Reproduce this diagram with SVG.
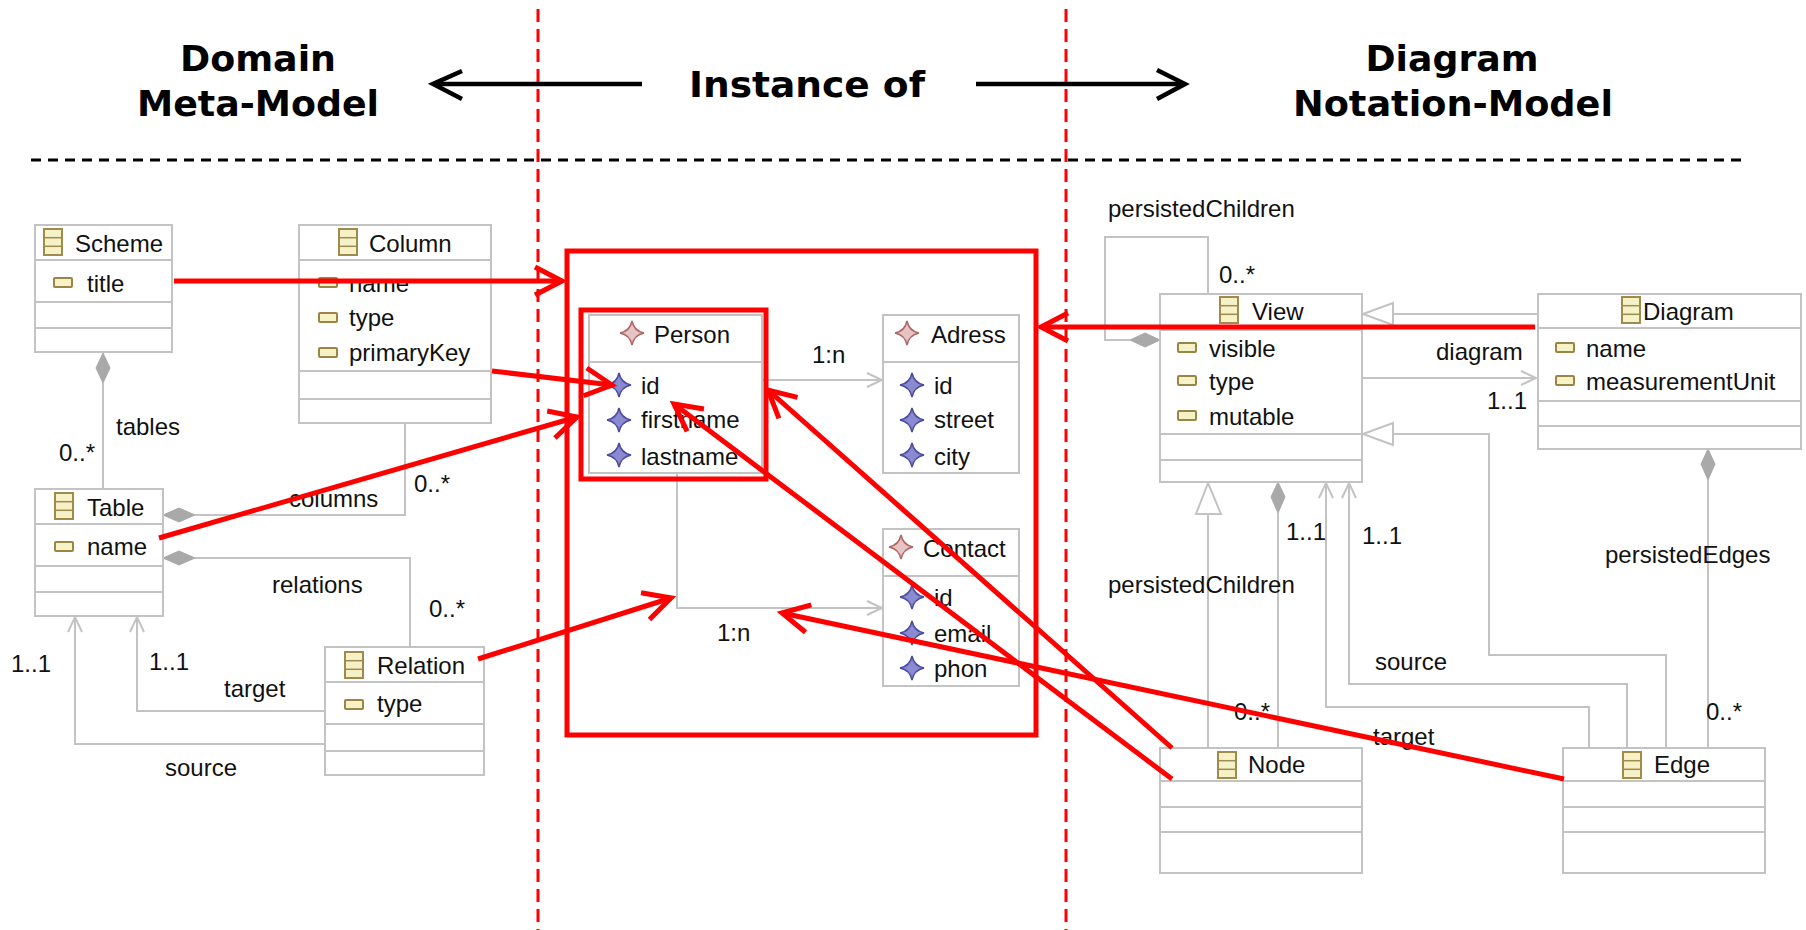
<svg xmlns="http://www.w3.org/2000/svg" width="1806" height="930" viewBox="0 0 1806 930">
<style>
  .title { font-family: "DejaVu Sans", Verdana, sans-serif; font-weight: bold; font-size: 36px; fill: #000; text-anchor: middle; }
  .t { font-family: "Liberation Sans", Arial, sans-serif; font-size: 24px; fill: #111; }
  .box { fill: #fff; stroke: #c3c3c3; stroke-width: 2; }
  .sep { stroke: #c3c3c3; stroke-width: 2; fill: none; }
  .con { stroke: #c3c3c3; stroke-width: 2; fill: none; }
  .open { stroke: #c3c3c3; stroke-width: 2; fill: none; marker-end: url(#grayOpen); }
  .dia { fill: #a9a9a9; stroke: #a9a9a9; stroke-width: 1; }
  .gen { fill: #fff; stroke: #c3c3c3; stroke-width: 2; }
  .red { stroke: #ff0000; stroke-width: 5; fill: none; }
  .redarrow { stroke: #ff0000; stroke-width: 5; fill: none; marker-end: url(#redOpen); }
  .blk { stroke: #000; stroke-width: 4.5; fill: none; }
</style>
<defs>
  <marker id="redOpen" markerUnits="userSpaceOnUse" viewBox="-34 -20 40 40" markerWidth="40" markerHeight="40" refX="0" refY="0" orient="auto">
    <path d="M-27,-14 L0,0 L-27,14" fill="none" stroke="#ff0000" stroke-width="5"/>
  </marker>
  <marker id="grayOpen" markerUnits="userSpaceOnUse" viewBox="-20 -10 24 20" markerWidth="24" markerHeight="20" refX="0" refY="0" orient="auto">
    <path d="M-15,-7 L0,0 L-15,7" fill="none" stroke="#c3c3c3" stroke-width="2"/>
  </marker>
  <g id="clsIcon">
    <rect x="0" y="0" width="18" height="26" fill="#f6f2c8" stroke="#a08a4c" stroke-width="2"/>
    <line x1="0" y1="8.7" x2="18" y2="8.7" stroke="#a08a4c" stroke-width="1.5"/>
    <line x1="0" y1="17.3" x2="18" y2="17.3" stroke="#a08a4c" stroke-width="1.5"/>
  </g>
  <rect id="attrIcon" x="0" y="0" width="18" height="9" rx="1" fill="#f6f2c8" stroke="#9c8444" stroke-width="2"/>
  <path id="redStar" d="M0,-12 Q2,-2 12,0 Q2,2 0,12 Q-2,2 -12,0 Q-2,-2 0,-12 Z" fill="#e6c4c4" stroke="#b06464" stroke-width="1.5"/>
  <path id="blueStar" d="M0,-12 Q2,-2 12,0 Q2,2 0,12 Q-2,2 -12,0 Q-2,-2 0,-12 Z" fill="#8a8ad0" stroke="#4a4aa2" stroke-width="1.5"/>
</defs>
<rect x="0" y="0" width="1806" height="930" fill="#fff"/>

<!-- header -->
<g id="header">
  <text class="title" x="258" y="71" textLength="156" lengthAdjust="spacingAndGlyphs">Domain</text>
  <text class="title" x="258" y="116" textLength="242" lengthAdjust="spacingAndGlyphs">Meta-Model</text>
  <text class="title" x="807" y="97" textLength="236" lengthAdjust="spacingAndGlyphs">Instance of</text>
  <text class="title" x="1452" y="71" textLength="173" lengthAdjust="spacingAndGlyphs">Diagram</text>
  <text class="title" x="1453" y="116" textLength="320" lengthAdjust="spacingAndGlyphs">Notation-Model</text>
  <line class="blk" x1="437" y1="84" x2="642" y2="84"/>
  <path class="blk" d="M462,71 L433,84 L462,99"/>
  <line class="blk" x1="976" y1="84" x2="1182" y2="84"/>
  <path class="blk" d="M1157,70 L1185,84 L1157,99"/>
  <line x1="31" y1="160" x2="1748" y2="160" stroke="#000" stroke-width="3" stroke-dasharray="10 7"/>
  <line x1="538" y1="9" x2="538" y2="930" stroke="#ff0000" stroke-width="3" stroke-dasharray="13 7"/>
  <line x1="1066" y1="9" x2="1066" y2="930" stroke="#ff0000" stroke-width="3" stroke-dasharray="13 7"/>
</g>

<!-- gray UML connectors -->
<g id="connectors">
  <path class="con" d="M103,383 L103,489"/>
  <polygon class="dia" points="103,353 110,368 103,383 96,368"/>
  <path class="con" d="M195,515 L405,515 L405,423"/>
  <polygon class="dia" points="163,515 179,508 195,515 179,522"/>
  <path class="con" d="M195,558 L410,558 L410,647"/>
  <polygon class="dia" points="163,558 179,551 195,558 179,565"/>
  <path class="open" d="M325,711 L137,711 L137,617"/>
  <path class="open" d="M325,744 L75,744 L75,617"/>

  <path class="open" d="M762,380 L882,380"/>
  <path class="open" d="M677,473 L677,608 L882,608"/>

  <path class="con" d="M1130,340 L1105,340 L1105,237 L1208,237 L1208,294"/>
  <polygon class="dia" points="1160,340 1145,333 1130,340 1145,347"/>
  <path class="con" d="M1538,314 L1393,314"/>
  <polygon class="gen" points="1363,314 1393,303 1393,325"/>
  <path class="open" d="M1362,378 L1536,378"/>
  <path class="con" d="M1666,748 L1666,655 L1489,655 L1489,434 L1393,434"/>
  <polygon class="gen" points="1363,434 1393,423 1393,445"/>
  <path class="con" d="M1208,748 L1208,514"/>
  <polygon class="gen" points="1208,483 1196,514 1221,514"/>
  <path class="con" d="M1278,513 L1278,748"/>
  <polygon class="dia" points="1278,482 1285,497 1278,513 1271,497"/>
  <path class="open" d="M1589,748 L1589,707 L1326,707 L1326,483"/>
  <path class="open" d="M1627,748 L1627,684 L1349,684 L1349,483"/>
  <path class="con" d="M1708,480 L1708,748"/>
  <polygon class="dia" points="1708,449 1715,464 1708,480 1701,464"/>

  <text class="t" x="116" y="435">tables</text>
  <text class="t" x="59" y="461">0..*</text>
  <text class="t" x="289" y="507">columns</text>
  <text class="t" x="414" y="492">0..*</text>
  <text class="t" x="272" y="593">relations</text>
  <text class="t" x="429" y="617">0..*</text>
  <text class="t" x="11" y="672">1..1</text>
  <text class="t" x="149" y="670">1..1</text>
  <text class="t" x="224" y="697">target</text>
  <text class="t" x="165" y="776">source</text>
  <text class="t" x="812" y="363">1:n</text>
  <text class="t" x="717" y="641">1:n</text>
  <text class="t" x="1108" y="217">persistedChildren</text>
  <text class="t" x="1219" y="283">0..*</text>
  <text class="t" x="1436" y="360">diagram</text>
  <text class="t" x="1487" y="409">1..1</text>
  <text class="t" x="1286" y="540">1..1</text>
  <text class="t" x="1362" y="544">1..1</text>
  <text class="t" x="1108" y="593">persistedChildren</text>
  <text class="t" x="1375" y="670">source</text>
  <text class="t" x="1234" y="720">0..*</text>
  <text class="t" x="1373" y="745">target</text>
  <text class="t" x="1605" y="563">persistedEdges</text>
  <text class="t" x="1706" y="720">0..*</text>
</g>

<!-- Domain meta-model classes -->
<g id="Scheme">
  <rect class="box" x="35" y="225" width="137" height="127"/>
  <path class="sep" d="M35,260 H172 M35,302 H172 M35,328 H172"/>
  <use href="#clsIcon" x="44" y="229"/>
  <text class="t" x="75" y="252">Scheme</text>
  <use href="#attrIcon" x="54" y="278"/>
  <text class="t" x="87" y="292">title</text>
</g>
<g id="Column">
  <rect class="box" x="299" y="225" width="192" height="198"/>
  <path class="sep" d="M299,260 H491 M299,371 H491 M299,399 H491"/>
  <use href="#clsIcon" x="339" y="229"/>
  <text class="t" x="369" y="252">Column</text>
  <use href="#attrIcon" x="319" y="278"/>
  <text class="t" x="349" y="292">name</text>
  <use href="#attrIcon" x="319" y="313"/>
  <text class="t" x="349" y="326">type</text>
  <use href="#attrIcon" x="319" y="348"/>
  <text class="t" x="349" y="361">primaryKey</text>
</g>
<g id="Table">
  <rect class="box" x="35" y="489" width="128" height="127"/>
  <path class="sep" d="M35,524 H163 M35,566 H163 M35,592 H163"/>
  <use href="#clsIcon" x="55" y="493"/>
  <text class="t" x="87" y="516">Table</text>
  <use href="#attrIcon" x="55" y="542"/>
  <text class="t" x="87" y="555">name</text>
</g>
<g id="Relation">
  <rect class="box" x="325" y="647" width="159" height="128"/>
  <path class="sep" d="M325,682 H484 M325,724 H484 M325,751 H484"/>
  <use href="#clsIcon" x="345" y="652"/>
  <text class="t" x="377" y="674">Relation</text>
  <use href="#attrIcon" x="345" y="700"/>
  <text class="t" x="377" y="712">type</text>
</g>

<!-- instance model -->
<g id="Person">
  <rect class="box" x="589" y="315" width="173" height="158"/>
  <path class="sep" d="M589,362 H762"/>
  <use href="#redStar" x="632" y="333"/>
  <text class="t" x="654" y="343">Person</text>
  <use href="#blueStar" x="619" y="385"/>
  <text class="t" x="641" y="394">id</text>
  <use href="#blueStar" x="619" y="420"/>
  <text class="t" x="641" y="428">firstname</text>
  <use href="#blueStar" x="619" y="455"/>
  <text class="t" x="641" y="465">lastname</text>
</g>
<g id="Adress">
  <rect class="box" x="883" y="315" width="136" height="158"/>
  <path class="sep" d="M883,362 H1019"/>
  <use href="#redStar" x="907" y="333"/>
  <text class="t" x="931" y="343">Adress</text>
  <use href="#blueStar" x="912" y="385"/>
  <text class="t" x="934" y="394">id</text>
  <use href="#blueStar" x="912" y="420"/>
  <text class="t" x="934" y="428">street</text>
  <use href="#blueStar" x="912" y="455"/>
  <text class="t" x="934" y="465">city</text>
</g>
<g id="Contact">
  <rect class="box" x="883" y="529" width="136" height="157"/>
  <path class="sep" d="M883,576 H1019"/>
  <use href="#redStar" x="901" y="547"/>
  <text class="t" x="923" y="557">Contact</text>
  <use href="#blueStar" x="912" y="597"/>
  <text class="t" x="934" y="606">id</text>
  <use href="#blueStar" x="912" y="633"/>
  <text class="t" x="934" y="642">email</text>
  <use href="#blueStar" x="912" y="668"/>
  <text class="t" x="934" y="677">phon</text>
</g>

<!-- notation model -->
<g id="View">
  <rect class="box" x="1160" y="294" width="202" height="188"/>
  <path class="sep" d="M1160,330 H1362 M1160,434 H1362 M1160,460 H1362"/>
  <use href="#clsIcon" x="1220" y="297"/>
  <text class="t" x="1252" y="320">View</text>
  <use href="#attrIcon" x="1178" y="343"/>
  <text class="t" x="1209" y="357">visible</text>
  <use href="#attrIcon" x="1178" y="376"/>
  <text class="t" x="1209" y="390">type</text>
  <use href="#attrIcon" x="1178" y="411"/>
  <text class="t" x="1209" y="425">mutable</text>
</g>
<g id="Diagram">
  <rect class="box" x="1538" y="294" width="263" height="155"/>
  <path class="sep" d="M1538,328 H1801 M1538,401 H1801 M1538,426 H1801"/>
  <use href="#clsIcon" x="1622" y="297"/>
  <text class="t" x="1643" y="320">Diagram</text>
  <use href="#attrIcon" x="1556" y="343"/>
  <text class="t" x="1586" y="357">name</text>
  <use href="#attrIcon" x="1556" y="376"/>
  <text class="t" x="1586" y="390">measurementUnit</text>
</g>
<g id="Node">
  <rect class="box" x="1160" y="748" width="202" height="125"/>
  <path class="sep" d="M1160,781 H1362 M1160,807 H1362 M1160,832 H1362"/>
  <use href="#clsIcon" x="1218" y="752"/>
  <text class="t" x="1248" y="773">Node</text>
</g>
<g id="Edge">
  <rect class="box" x="1563" y="748" width="202" height="125"/>
  <path class="sep" d="M1563,781 H1765 M1563,807 H1765 M1563,832 H1765"/>
  <use href="#clsIcon" x="1623" y="752"/>
  <text class="t" x="1654" y="773">Edge</text>
</g>

<!-- red instance-of mapping -->
<g id="instanceBox">
  <rect class="red" x="567" y="251" width="469" height="484"/>
</g>
<g id="personBox">
  <rect class="red" x="581" y="310" width="185" height="169"/>
</g>
<g id="mapping">
  <path class="redarrow" d="M174,281 L562,281"/>
  <path class="redarrow" d="M492,371 L612,385"/>
  <path class="redarrow" d="M159,538 L577,417"/>
  <path class="redarrow" d="M478,659 L671,598"/>
  <path class="redarrow" d="M1172,748 L768,390"/>
  <path class="redarrow" d="M1172,779 L674,404"/>
  <path class="redarrow" d="M1564,779 L782,613"/>
  <path class="redarrow" d="M1535,327 L1041,327"/>
</g>
</svg>
